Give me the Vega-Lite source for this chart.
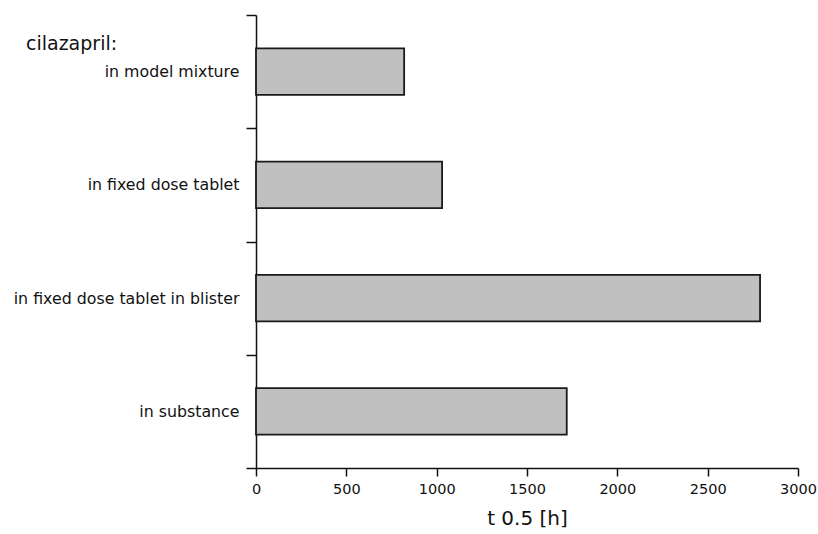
{
  "$schema": "https://vega.github.io/schema/vega-lite/v6.json",
  "autosize": "none",
  "width": 542,
  "height": 453,
  "padding": {"left": 256, "top": 15, "right": 20, "bottom": 66},
  "background": "white",
  "title": {
    "text": "cilazapril:",
    "anchor": "start",
    "frame": "group",
    "font": "DejaVu Sans",
    "fontSize": 19,
    "fontWeight": "normal",
    "color": "#111",
    "baseline": "alphabetic",
    "dx": -230,
    "dy": 62,
    "offset": 0
  },
  "data": {
    "values": [
      {"sample": "in model mixture", "t": 820},
      {"sample": "in fixed dose tablet", "t": 1030},
      {"sample": "in fixed dose tablet in blister", "t": 2790},
      {"sample": "in substance", "t": 1720}
    ]
  },
  "mark": {"type": "bar", "fill": "#c0c0c0", "stroke": "#1a1a1a", "strokeWidth": 1.8, "height": {"band": 0.41}},
  "encoding": {
    "y": {
      "field": "sample",
      "type": "nominal",
      "sort": null,
      "scale": {"paddingInner": 0, "paddingOuter": 0},
      "axis": {
        "title": null,
        "tickBand": "extent",
        "tickSize": 10,
        "tickColor": "#111",
        "tickWidth": 1.5,
        "domainColor": "#111",
        "domainWidth": 1.5,
        "labelFont": "DejaVu Sans",
        "labelFontSize": 15.8,
        "labelColor": "#111",
        "labelPadding": 7,
        "labelLimit": 0,
        "grid": false
      }
    },
    "x": {
      "field": "t",
      "type": "quantitative",
      "scale": {"domain": [0, 3000], "nice": false},
      "axis": {
        "title": "t 0.5 [h]",
        "values": [0, 500, 1000, 1500, 2000, 2500, 3000],
        "format": "d",
        "labelFlush": false,
        "tickSize": 8,
        "tickColor": "#111",
        "tickWidth": 1.5,
        "domainColor": "#111",
        "domainWidth": 1.5,
        "labelFont": "DejaVu Sans",
        "labelFontSize": 14.5,
        "labelColor": "#111",
        "labelPadding": 6,
        "titleFont": "DejaVu Sans",
        "titleFontSize": 20,
        "titleFontWeight": "normal",
        "titleColor": "#111",
        "titlePadding": 13,
        "grid": false
      }
    }
  },
  "config": {"view": {"stroke": null}}
}
